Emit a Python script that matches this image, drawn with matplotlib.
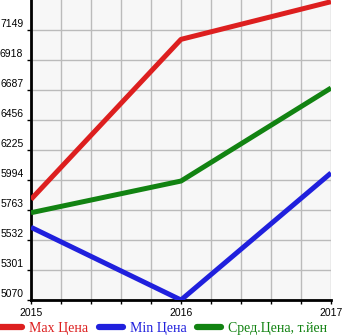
import matplotlib
matplotlib.use("Agg")
import matplotlib.pyplot as plt
from matplotlib.ticker import MultipleLocator, FixedLocator
from matplotlib.transforms import offset_copy

years = [2015, 2016, 2017]
max_price = [5845, 7077, 7367]
min_price = [5630, 5070, 6048]
avg_price = [5742, 5986, 6702]
y_ticks = [5070, 5301, 5532, 5763, 5994, 6225, 6456, 6687, 6918, 7149]
labels = ["Max Цена", "Min Цена", "Сред.Цена, т.йен"]
colors = ["#dd1f1f", "#2020dd", "#128312"]

fig = plt.figure(figsize=(3.45, 3.35), dpi=100)
ax = fig.add_axes([31/345, 35/335, 300/345, 300/335])
ax.set_facecolor("#f7f7f7")

for vals, lab, c in zip([max_price, min_price, avg_price], labels, colors):
    ax.plot(years, vals, color=c, lw=3.6, label=lab, solid_capstyle="butt", zorder=3)

ax.set_xlim(2015, 2017)
ax.set_ylim(5070, 7380)
ax.xaxis.set_major_locator(FixedLocator(years))
ax.xaxis.set_minor_locator(MultipleLocator(0.2))
ax.set_xticklabels([str(y) for y in years], family="Liberation Sans")
ax.yaxis.set_major_locator(FixedLocator(y_ticks))
ax.set_yticklabels([])
trans = offset_copy(ax.get_yaxis_transform(), fig=fig, x=-5.5, y=0.8, units="points")
for t in y_ticks:
    ax.text(0, t, str(t), transform=trans, ha="right", va="bottom",
            fontsize=7.5, family="Liberation Sans")

ax.grid(True, which="both", color="#bbbbbb", lw=1, zorder=0)
for s in ["top", "right"]:
    ax.spines[s].set_visible(False)
for s in ["left", "bottom"]:
    ax.spines[s].set_linewidth(2)
ax.tick_params(axis="x", which="both", direction="out", length=3, width=1, labelsize=7.5, pad=3)
ax.tick_params(axis="y", which="both", direction="out", length=3, width=1, pad=0)

leg = fig.legend(loc="lower left", bbox_to_anchor=(-0.005, 0.0), ncol=3, frameon=False,
                 prop={"family": "Liberation Serif", "size": 10}, handlelength=1.7,
                 columnspacing=0.8, handletextpad=0.5, borderaxespad=0, borderpad=0.0)
for txt, c in zip(leg.get_texts(), colors):
    txt.set_color(c)
for h in leg.get_lines():
    h.set_linewidth(4.5)
    h.set_solid_capstyle("round")

fig.savefig("out.png", dpi=100)
